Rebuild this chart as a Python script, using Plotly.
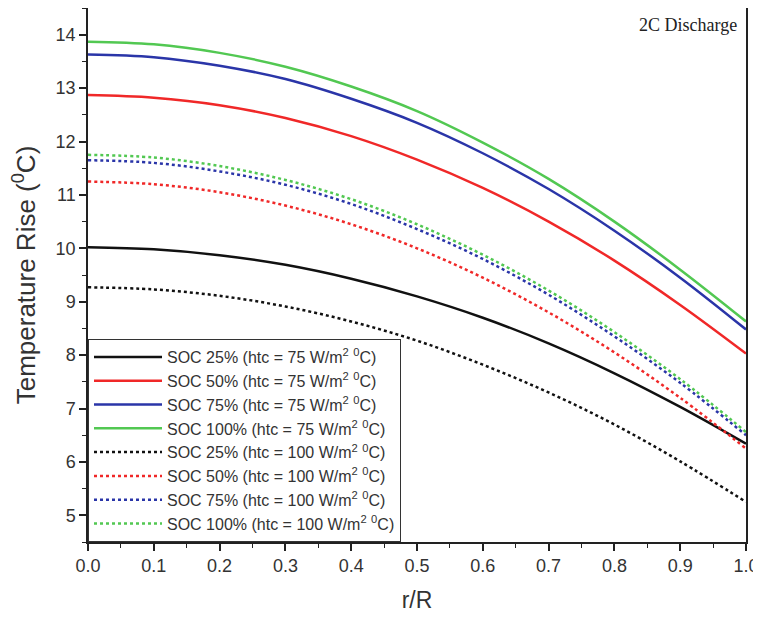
import plotly.graph_objects as go

r = [0.0, 0.1, 0.2, 0.3, 0.4, 0.5, 0.6, 0.7, 0.8, 0.9, 1.0]

soc25_75 = [10.02, 9.98, 9.87, 9.69, 9.43, 9.10, 8.70, 8.22, 7.66, 7.03, 6.34]
soc50_75 = [12.87, 12.82, 12.68, 12.44, 12.10, 11.66, 11.13, 10.50, 9.77, 8.94, 8.03]
soc75_75 = [13.63, 13.58, 13.42, 13.17, 12.80, 12.35, 11.78, 11.11, 10.33, 9.45, 8.48]
soc100_75 = [13.87, 13.82, 13.66, 13.40, 13.03, 12.57, 11.98, 11.30, 10.50, 9.60, 8.63]
soc25_100 = [9.27, 9.23, 9.11, 8.91, 8.63, 8.27, 7.82, 7.30, 6.70, 6.01, 5.25]
soc50_100 = [11.25, 11.20, 11.05, 10.80, 10.45, 10.00, 9.45, 8.80, 8.05, 7.20, 6.25]
soc75_100 = [11.65, 11.60, 11.44, 11.19, 10.83, 10.36, 9.80, 9.13, 8.35, 7.48, 6.50]
soc100_100 = [11.75, 11.70, 11.54, 11.28, 10.92, 10.45, 9.88, 9.21, 8.43, 7.55, 6.56]

names = [
    "SOC 25% (htc = 75 W/m<sup>2</sup> <sup>0</sup>C)",
    "SOC 50% (htc = 75 W/m<sup>2</sup> <sup>0</sup>C)",
    "SOC 75% (htc = 75 W/m<sup>2</sup> <sup>0</sup>C)",
    "SOC 100% (htc = 75 W/m<sup>2</sup> <sup>0</sup>C)",
    "SOC 25% (htc = 100 W/m<sup>2</sup> <sup>0</sup>C)",
    "SOC 50% (htc = 100 W/m<sup>2</sup> <sup>0</sup>C)",
    "SOC 75% (htc = 100 W/m<sup>2</sup> <sup>0</sup>C)",
    "SOC 100% (htc = 100 W/m<sup>2</sup> <sup>0</sup>C)",
]
series = [soc25_75, soc50_75, soc75_75, soc100_75, soc25_100, soc50_100, soc75_100, soc100_100]
colors = ["#111111", "#f02828", "#2a35a8", "#52c852"] * 2
dashes = ["solid"] * 4 + ["dot"] * 4

fig = go.Figure()
for nm, ys, c, d in zip(names, series, colors, dashes):
    fig.add_trace(go.Scatter(x=r, y=ys, mode="lines", name=nm,
                             line=dict(color=c, width=2.5, dash=d, shape="spline")))

axis_common = dict(showline=True, linecolor="#222", linewidth=1.5, mirror=True,
                   ticks="outside", ticklen=7, tickwidth=1.5, tickcolor="#222",
                   showgrid=False, zeroline=False, ticklabeloverflow="allow",
                   automargin=False,
                   tickfont=dict(family="Arial", size=18, color="#333"))

fig.update_xaxes(range=[0, 1.0], dtick=0.1, tickformat=".1f",
                 minor=dict(dtick=0.05, ticks="outside", ticklen=4, tickcolor="#222", tickwidth=1.2),
                 title=dict(text="r/R", font=dict(family="Arial", size=23, color="#333"), standoff=17),
                 **axis_common)
fig.update_yaxes(range=[4.5, 14.5], dtick=1,
                 minor=dict(dtick=0.5, ticks="outside", ticklen=4, tickcolor="#222", tickwidth=1.2),
                 title=dict(text="Temperature Rise (<sup>0</sup>C)", font=dict(family="Arial", size=26, color="#333"), standoff=22),
                 **axis_common)

fig.add_annotation(text="2C Discharge", xref="paper", yref="paper", x=0.99, y=0.99,
                   xanchor="right", yanchor="top", showarrow=False,
                   font=dict(family="Liberation Serif", size=18, color="#222"))

fig.update_layout(
    width=753, height=605,
    margin=dict(l=80, r=15, t=0, b=71, autoexpand=False),
    paper_bgcolor="white", plot_bgcolor="white",
    showlegend=True,
    legend=dict(x=0, y=0, xanchor="left", yanchor="bottom",
                bordercolor="#333", borderwidth=1, bgcolor="white",
                font=dict(family="Arial", size=16, color="#333"),
                tracegroupgap=0, itemwidth=68),
)

fig.write_html("out.html")
